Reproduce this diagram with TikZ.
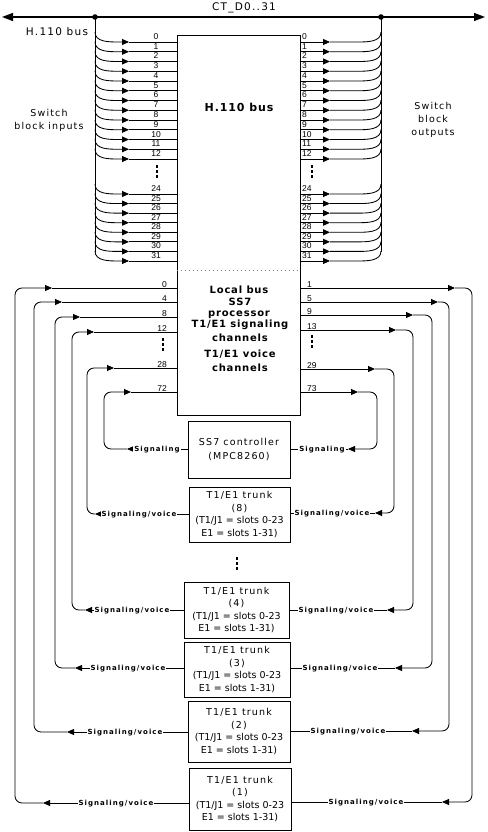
\documentclass[tikz,border=0pt]{standalone}
\usepackage{fontspec}
\setmainfont{DejaVu Sans}
\newfontfamily\vfont[LetterSpace=12]{DejaVu Sans}
\newfontfamily\vbfont[LetterSpace=8]{DejaVu Sans}
\newfontfamily\sigfont[LetterSpace=15]{DejaVu Sans}
\newfontfamily\numfont{Liberation Sans}
\usetikzlibrary{arrows.meta}
\newcommand\sigS{Signaling}
\newcommand\sigV{Signaling/voice}
\newcommand\vdotsmark[2]{\foreach \k in {0,1,2}{\fill (#1-1.3,#2+\k*5) rectangle ++(2.6,2.6);}}
\newcommand\rowpair[2]{%
  \draw[ln,arrowend] (95,#2-10) to[out=-90,in=180] (119,#2) -- (129,#2);
  \draw[ln] (129,#2) -- (hbox.west |- 0,#2);
  \node[num, anchor=base] (il#1) at (156,#2-2.5) {#1};
  \draw[ln,arrowend] (hbox.east |- 0,#2) -- (330,#2);
  \draw[ln] (330,#2) -- (357,#2) to[out=0,in=-90] (381,#2-10);
  \node[num, anchor=base west] (ol#1) at (302,#2-2.5) {#1};
}
\begin{document}
\begin{tikzpicture}[x=1pt,y=-1pt,
  ln/.style={line width=0.85pt},
  arrowend/.style={-{Triangle[length=7pt,width=6pt]}},
  box/.style={draw, line width=0.85pt, inner sep=0pt, align=center, font=\fontsize{9.5}{12.4}\selectfont},
  num/.style={font=\numfont\fontsize{8.5}{9}\selectfont, inner sep=0pt},
  sig/.style={font=\sigfont\bfseries\fontsize{7}{8}\selectfont, fill=white, inner sep=1pt, text height=5.5pt, text depth=1.5pt},
  lab/.style={font=\vfont\fontsize{9.5}{13}\selectfont, inner sep=0pt, align=center},
  blab/.style={font=\vbfont\bfseries\fontsize{10}{12}\selectfont, inner sep=0pt, anchor=base},
]
\fill[white] (0,0) rectangle (487,832);
\useasboundingbox (0,0) rectangle (487,832);

% top bus
\coordinate (busL) at (2,17);
\coordinate (busR) at (485,17);
\coordinate (jL) at (95,17);
\coordinate (jR) at (381,17);
\draw[line width=1.3pt, {Triangle[length=11pt,width=8pt]}-{Triangle[length=11pt,width=8pt]}] (busL) -- (busR);
\fill (jL) circle[radius=2.8pt];
\fill (jR) circle[radius=2.8pt];
\node[lab, font=\vfont\fontsize{10.5}{12}\selectfont] (ct) at (244,8) {CT\_D0..31};
\node[lab, font=\vfont\fontsize{10.5}{12}\selectfont] (hbus) at (57,32) {H.110 bus};
\node[lab] (sbi) at (49,120) {Switch\\block inputs};
\node[lab] (sbo) at (433,120) {Switch\\block\\outputs};

% boxes
\node[box, minimum width=123pt, minimum height=380pt] (hbox) at (238.5,225) {};
\node[box, minimum width=102pt, minimum height=57pt] (ss7) at (239,449.5) {{\vfont SS7 controller}\\[1.5pt]{\vfont (MPC8260)}};
\node[box, minimum width=101pt, minimum height=55pt] (t8) at (239.5,514.5) {{\vfont T1/E1 trunk}\\{\vfont (8)}\\(T1/J1 = slots 0-23\\E1 = slots 1-31)};
\node[box, minimum width=105pt, minimum height=56pt] (t4) at (236.5,610) {{\vfont T1/E1 trunk}\\{\vfont (4)}\\(T1/J1 = slots 0-23\\E1 = slots 1-31)};
\node[box, minimum width=106pt, minimum height=55pt] (t3) at (237,669.5) {{\vfont T1/E1 trunk}\\{\vfont (3)}\\(T1/J1 = slots 0-23\\E1 = slots 1-31)};
\node[box, minimum width=102pt, minimum height=61pt] (t2) at (239,731.5) {{\vfont T1/E1 trunk}\\{\vfont (2)}\\(T1/J1 = slots 0-23\\E1 = slots 1-31)};
\node[box, minimum width=102pt, minimum height=62pt] (t1) at (240,799) {{\vfont T1/E1 trunk}\\{\vfont (1)}\\(T1/J1 = slots 0-23\\E1 = slots 1-31)};

\draw[gray, line width=0.8pt, dash pattern=on 1.5pt off 2.5pt] (hbox.west |- 0,270) -- (hbox.east |- 0,270);

% H.110 box text
\node[blab, font=\vbfont\bfseries\fontsize{11}{12}\selectfont] (hname) at (239,112) {H.110 bus};
\node[blab] (lb1) at (239,293.5) {Local bus};
\node[blab] (lb2) at (240,305) {SS7};
\node[blab] (lb3) at (239,316.5) {processor};
\node[blab] (lb4) at (240,327.5) {T1/E1 signaling};
\node[blab] (lb5) at (240,341) {channels};
\node[blab] (lb6) at (240,357.5) {T1/E1 voice};
\node[blab] (lb7) at (240,371) {channels};

% switch rows
\draw[ln] (jL) -- (95,252);
\draw[ln] (jR) -- (381,252);
\foreach \i in {0,...,12}{\pgfmathsetmacro\yy{42+9.75*\i}\rowpair{\i}{\yy}}
\foreach \i in {24,...,31}{\pgfmathsetmacro\yy{194+9.57*(\i-24)}\rowpair{\i}{\yy}}

% vertical dots
\vdotsmark{157}{165}
\vdotsmark{312}{165}
\vdotsmark{163}{338}
\vdotsmark{312}{335}
\vdotsmark{237}{557}

% left loops: trunk -> box
\foreach \vx/\yt/\at/\yb/\ab/\lx/\tg/\nm/\kd in {
 15/288/52/803/43/116/t1/0/V,
 34/302/62/732/67/125/t2/4/V,
 55/317/80/668/75/128/t3/8/V,
 72/332/94/610/85/132/t4/12/V,
 87/368/114/514/95/139/t8/28/V,
 104/392/131/449/127/157/ss7/72/S}{
 \draw[ln,arrowend] (\tg.west |- 0,\yb) -- (\ab,\yb);
 \draw[ln,arrowend,rounded corners=7pt] (\ab,\yb) -- (\vx,\yb) -- (\vx,\yt) -- (\at,\yt);
 \draw[ln] (\at,\yt) -- (hbox.west |- 0,\yt);
 \node[sig] (sl\nm) at (\lx,\yb) {\csname sig\kd\endcsname};
 \node[num, anchor=base east] (nl\nm) at (167,\yt-1) {\nm};
}

% right loops: box -> trunk
\foreach \vx/\yt/\at/\yb/\ab/\lx/\tg/\nm/\kd in {
 472/288/455/802/442/366/t1/1/V,
 449/302/438/731/412/348/t2/5/V,
 432/315/413/668/395/340/t3/9/V,
 413/330/396/610/387/336/t4/13/V,
 394/369/375/513/375/332/t8/29/V,
 377/392/358/449/348/322/ss7/73/S}{
 \draw[ln,arrowend] (hbox.east |- 0,\yt) -- (\at,\yt);
 \draw[ln,arrowend,rounded corners=7pt] (\at,\yt) -- (\vx,\yt) -- (\vx,\yb) -- (\ab,\yb);
 \draw[ln] (\ab,\yb) -- (\tg.east |- 0,\yb);
 \node[sig] (sr\nm) at (\lx,\yb) {\csname sig\kd\endcsname};
 \node[num, anchor=base west] (nr\nm) at (307,\yt-1) {\nm};
}
\end{tikzpicture}
\end{document}
